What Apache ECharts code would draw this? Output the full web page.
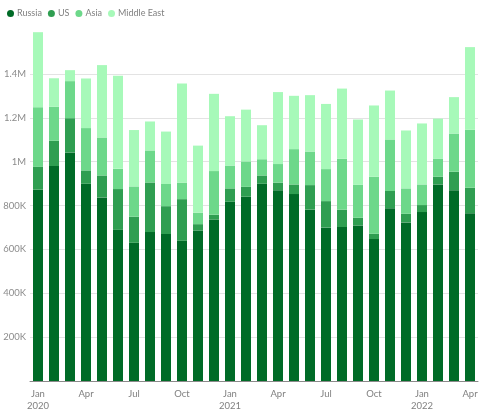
<!DOCTYPE html>
<html><head><meta charset="utf-8">
<script src="https://cdn.jsdelivr.net/npm/echarts@6/dist/echarts.min.js"></script>
<style>html,body{margin:0;padding:0;background:#fff}#c{width:485px;height:414px}</style>
</head><body><div id="c"></div>
<script>
const categories = ['2020-01','2020-02','2020-03','2020-04','2020-05','2020-06','2020-07','2020-08','2020-09','2020-10','2020-11','2020-12',
  '2021-01','2021-02','2021-03','2021-04','2021-05','2021-06','2021-07','2021-08','2021-09','2021-10','2021-11','2021-12',
  '2022-01','2022-02','2022-03','2022-04'];
const tickLabels = {0:'Jan\n2020',3:'Apr',6:'Jul',9:'Oct',12:'Jan\n2021',15:'Apr',18:'Jul',21:'Oct',24:'Jan\n2022',27:'Apr'};
const russia = [872,980,1042,899,837,689,630,679,670,639,686,736,817,840,899,870,852,781,699,702,709,647,788,723,770,896,870,765];
const us     = [104,115,156,61,100,186,119,226,127,190,29,22,61,45,38,34,44,112,121,79,35,24,78,39,32,35,84,116];
const asia   = [272,155,169,193,173,92,138,146,101,75,52,199,104,116,74,85,161,153,146,232,150,260,235,116,94,83,174,264];
const middleEast = [342,130,50,226,330,425,257,132,239,452,306,352,225,236,155,328,243,257,297,320,298,325,223,264,278,182,166,377];
const yTicks = {0:'',200000:'200K',400000:'400K',600000:'600K',800000:'800K',1000000:'1M',1200000:'1.2M',1400000:'1.4M'};

const names = ['Russia','US','Asia','Middle East'];
const colors = ['#006b27','#2f9e51','#6dd88a','#a7f9b9'];
const vals = [russia, us, asia, middleEast];
const font = 'Lato, "Noto Sans", sans-serif';

const chart = echarts.init(document.getElementById('c'), null, {renderer:'canvas'});
chart.setOption({
  animation:false,
  color: colors,
  legend:{
    left:2, top:4, icon:'circle', itemWidth:7, itemHeight:7, itemGap:6,
    textStyle:{color:'#808080', fontSize:9, fontFamily:font, padding:[0,0,0,-2]},
    data:names
  },
  grid:{left:30, right:7, top:30, bottom:33, containLabel:false},
  xAxis:{
    type:'category', data:categories,
    axisTick:{show:false},
    axisLine:{lineStyle:{color:'#8a8a8a', width:1}},
    axisLabel:{
      interval:0, color:'#808080', fontSize:9.5, fontFamily:font, lineHeight:12, margin:7,
      formatter:(v,i)=> tickLabels[i] || ''
    }
  },
  yAxis:{
    type:'value', min:0, max:1600000, interval:200000,
    axisLine:{show:false}, axisTick:{show:false},
    splitLine:{show:true, showMaxLine:false, lineStyle:{color:'#e3e3e3', width:1}},
    axisLabel:{color:'#8c8c8c', fontSize:9.5, fontFamily:font, margin:4, showMaxLabel:false,
      formatter:(v)=> (yTicks[v] !== undefined ? yTicks[v] : '')}
  },
  series: names.map((n,k)=>({
    name:n, type:'bar', stack:'total', barWidth:10,
    itemStyle:{color:colors[k]},
    data: vals[k].map(v=>v*1000)
  }))
});
</script></body></html>
